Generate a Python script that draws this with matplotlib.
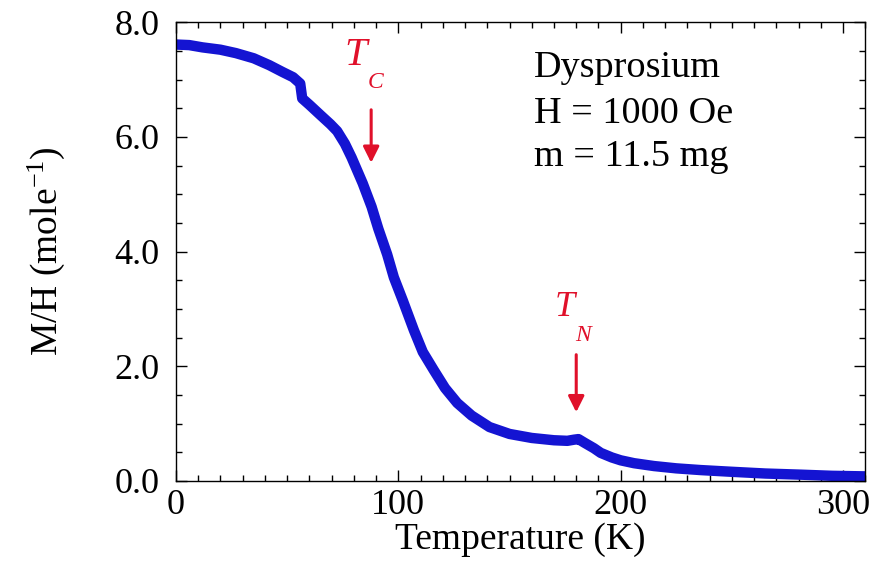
import numpy as np
import matplotlib.pyplot as plt
from matplotlib.ticker import MultipleLocator

# M/H vs temperature for dysprosium
temp = [0, 6, 12, 20, 27, 35, 42, 48, 52.7, 55.9, 56.8, 60, 65, 69.5, 72.5,
        76, 79, 81, 84, 88, 91, 95, 98, 102, 107, 111, 116, 121, 126.5, 133,
        141, 150, 160, 170, 176, 179, 181, 184, 188, 191, 196, 200, 206,
        215, 225, 236, 250, 265, 281, 295, 310]
mh = [7.61, 7.60, 7.56, 7.52, 7.46, 7.37, 7.25, 7.13, 7.04, 6.93, 6.67,
      6.56, 6.38, 6.22, 6.10, 5.88, 5.64, 5.46, 5.19, 4.78, 4.40, 3.95,
      3.55, 3.15, 2.63, 2.25, 1.93, 1.62, 1.36, 1.14, 0.94, 0.82, 0.75,
      0.71, 0.70, 0.72, 0.73, 0.66, 0.57, 0.49, 0.41, 0.36, 0.31, 0.26,
      0.22, 0.19, 0.16, 0.13, 0.11, 0.09, 0.08]

info_lines = ['Dysprosium', 'H = 1000 Oe', 'm = 11.5 mg']

plt.rcParams['font.family'] = ['Liberation Serif', 'DejaVu Serif']
plt.rcParams['mathtext.fontset'] = 'custom'
plt.rcParams['mathtext.rm'] = 'Liberation Serif'
plt.rcParams['mathtext.it'] = 'Liberation Serif:italic'

fig = plt.figure(figsize=(8.75, 5.83), dpi=100)
ax = fig.add_axes([0.201, 0.175, 0.788, 0.787])

ax.plot(temp, mh, color='#1414d2', lw=7.5, solid_capstyle='round',
        solid_joinstyle='round')

ax.set_xlim(0, 310)
ax.set_ylim(0, 8)
ax.xaxis.set_major_locator(MultipleLocator(100))
ax.xaxis.set_minor_locator(MultipleLocator(10))
ax.yaxis.set_major_locator(MultipleLocator(2))
ax.yaxis.set_minor_locator(MultipleLocator(0.5))
ax.yaxis.set_major_formatter(plt.FormatStrFormatter('%.1f'))
ax.tick_params(which='both', direction='in', top=True, right=True,
               labelsize=26, width=1)
ax.tick_params(axis='x', pad=6)
ax.tick_params(axis='y', pad=12)
ax.tick_params(which='major', length=8)
ax.tick_params(which='minor', length=4)
for s in ax.spines.values():
    s.set_linewidth(1)

ax.set_xlabel('Temperature (K)', fontsize=27, labelpad=0)
ax.set_ylabel('M/H (mole$^{\\mathregular{-1}}$)', fontsize=27, labelpad=34)

red = '#e0102a'
# T_C marker
ax.text(81, 7.42, 'T', color=red, fontsize=29, style='italic',
        ha='center', va='center')
ax.text(89.6, 6.95, 'C', color=red, fontsize=17, style='italic',
        ha='center', va='center')
ax.annotate('', xy=(87.8, 5.5), xytext=(87.8, 6.52),
            arrowprops=dict(arrowstyle='-|>', color=red, lw=2.2,
                            mutation_scale=24))
# T_N marker
ax.text(175, 3.03, 'T', color=red, fontsize=26, style='italic',
        ha='center', va='center')
ax.text(183, 2.54, 'N', color=red, fontsize=17, style='italic',
        ha='center', va='center')
ax.annotate('', xy=(180, 1.15), xytext=(180, 2.25),
            arrowprops=dict(arrowstyle='-|>', color=red, lw=2.2,
                            mutation_scale=24))

baselines = [7.04, 6.24, 5.50]
for line, yb in zip(info_lines, baselines):
    ax.text(160.8, yb, line, fontsize=27.5, ha='left', va='baseline')

fig.savefig('out.png', dpi=100)
